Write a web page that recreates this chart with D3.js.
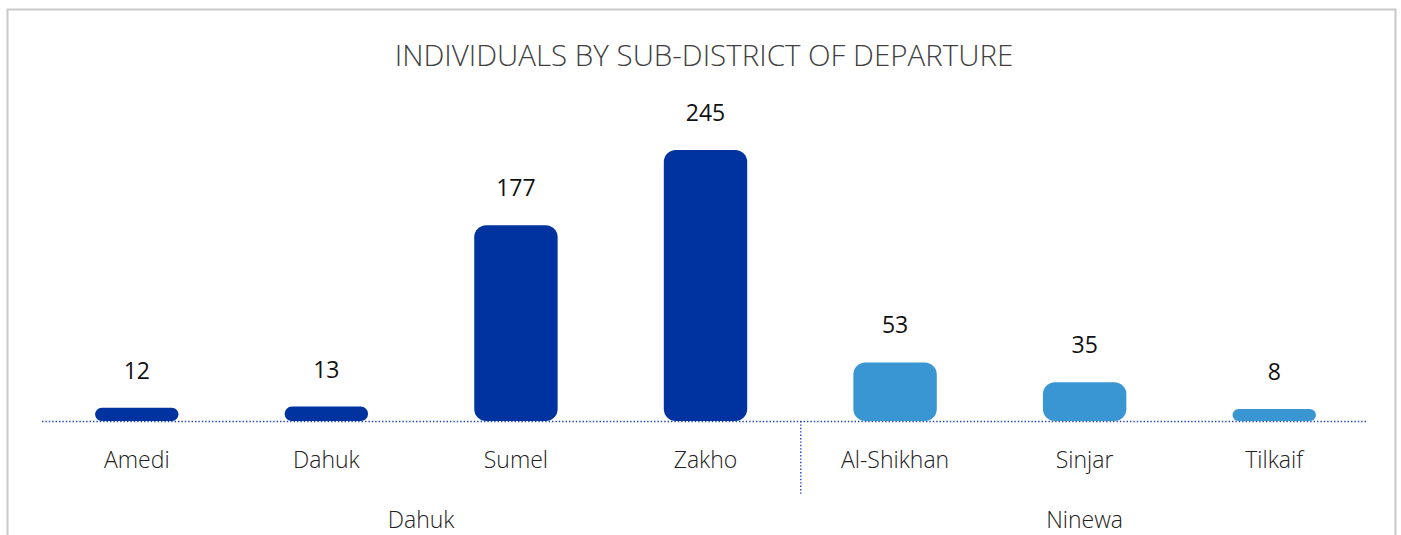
<!DOCTYPE html>
<html><head><meta charset="utf-8">
<script src="https://cdn.jsdelivr.net/npm/d3@7"></script>
<style>html,body{margin:0;padding:0;background:#fff;}svg{display:block;}</style>
</head><body>
<svg id="c" width="1401" height="535"></svg>
<script>
const categories = ["Amedi","Dahuk","Sumel","Zakho","Al-Shikhan","Sinjar","Tilkaif"];
const values = [12,13,177,245,53,35,8];
const groups = ["Dahuk","Dahuk","Dahuk","Dahuk","Ninewa","Ninewa","Ninewa"];
const groupColors = {"Dahuk":"#0033A0","Ninewa":"#3A96D3"};
const title = "INDIVIDUALS BY SUB-DISTRICT OF DEPARTURE";

const svg = d3.select("#c");
const font = "'Open Sans', sans-serif";
// border
svg.append("rect").attr("x",7.5).attr("y",9.5).attr("width",1388).attr("height",540)
  .attr("fill","none").attr("stroke","#c9c9c9").attr("stroke-width",2);

svg.append("text").attr("x",704).attr("y",66).attr("text-anchor","middle")
  .attr("font-family",font).attr("font-size",29.5).attr("fill","#404040")
  .attr("font-weight",300).text(title);

const x = d3.scaleBand().domain(categories).range([42,1369]).paddingInner(0.56).paddingOuter(0.28);
const y = d3.scaleLinear().domain([0,245]).range([421,150]);
const base = y(0);

// baseline
svg.append("line").attr("x1",42).attr("x2",1367).attr("y1",base+0.5).attr("y2",base+0.5)
  .attr("stroke","#1f3fd0").attr("stroke-width",1.4).attr("stroke-dasharray","1.4,2");

const groupNames = Array.from(new Set(groups));
const sepIdx = groups.indexOf(groupNames[1]);
const sepX = 42 + sepIdx*(1327/categories.length);
svg.append("line").attr("x1",sepX+0.5).attr("x2",sepX+0.5).attr("y1",base).attr("y2",494)
  .attr("stroke","#1f3fd0").attr("stroke-width",1.4).attr("stroke-dasharray","1.4,2");

const bw = x.bandwidth();
svg.selectAll("rect.bar").data(categories).join("rect").attr("class","bar")
  .attr("x",d=>x(d)).attr("width",bw)
  .attr("y",(d,i)=>Math.min(y(values[i]), base-12))
  .attr("height",(d,i)=>Math.max(base-y(values[i]),12))
  .attr("rx",(d,i)=>Math.min(12,Math.max(base-y(values[i]),12)/2))
  .attr("fill",(d,i)=>groupColors[groups[i]]);

svg.selectAll("text.val").data(categories).join("text").attr("class","val")
  .attr("x",d=>x(d)+bw/2).attr("y",(d,i)=>Math.min(y(values[i]), base-12)-29)
  .attr("text-anchor","middle").attr("font-family",font).attr("font-size",23).attr("fill","#111")
  .text((d,i)=>values[i]);

svg.selectAll("text.cat").data(categories).join("text").attr("class","cat")
  .attr("x",d=>x(d)+bw/2).attr("y",468)
  .attr("text-anchor","middle").attr("font-family",font).attr("font-size",23).attr("fill","#222")
  .attr("font-weight",300).text(d=>d);

groupNames.forEach(g=>{
  const idx = categories.map((c,i)=>i).filter(i=>groups[i]===g);
  const cx = (x(categories[idx[0]])+x(categories[idx[idx.length-1]])+bw)/2;
  svg.append("text").attr("x",cx).attr("y",528).attr("text-anchor","middle")
    .attr("font-family",font).attr("font-size",23).attr("fill","#222").attr("font-weight",300).text(g);
});
</script>
</body></html>
